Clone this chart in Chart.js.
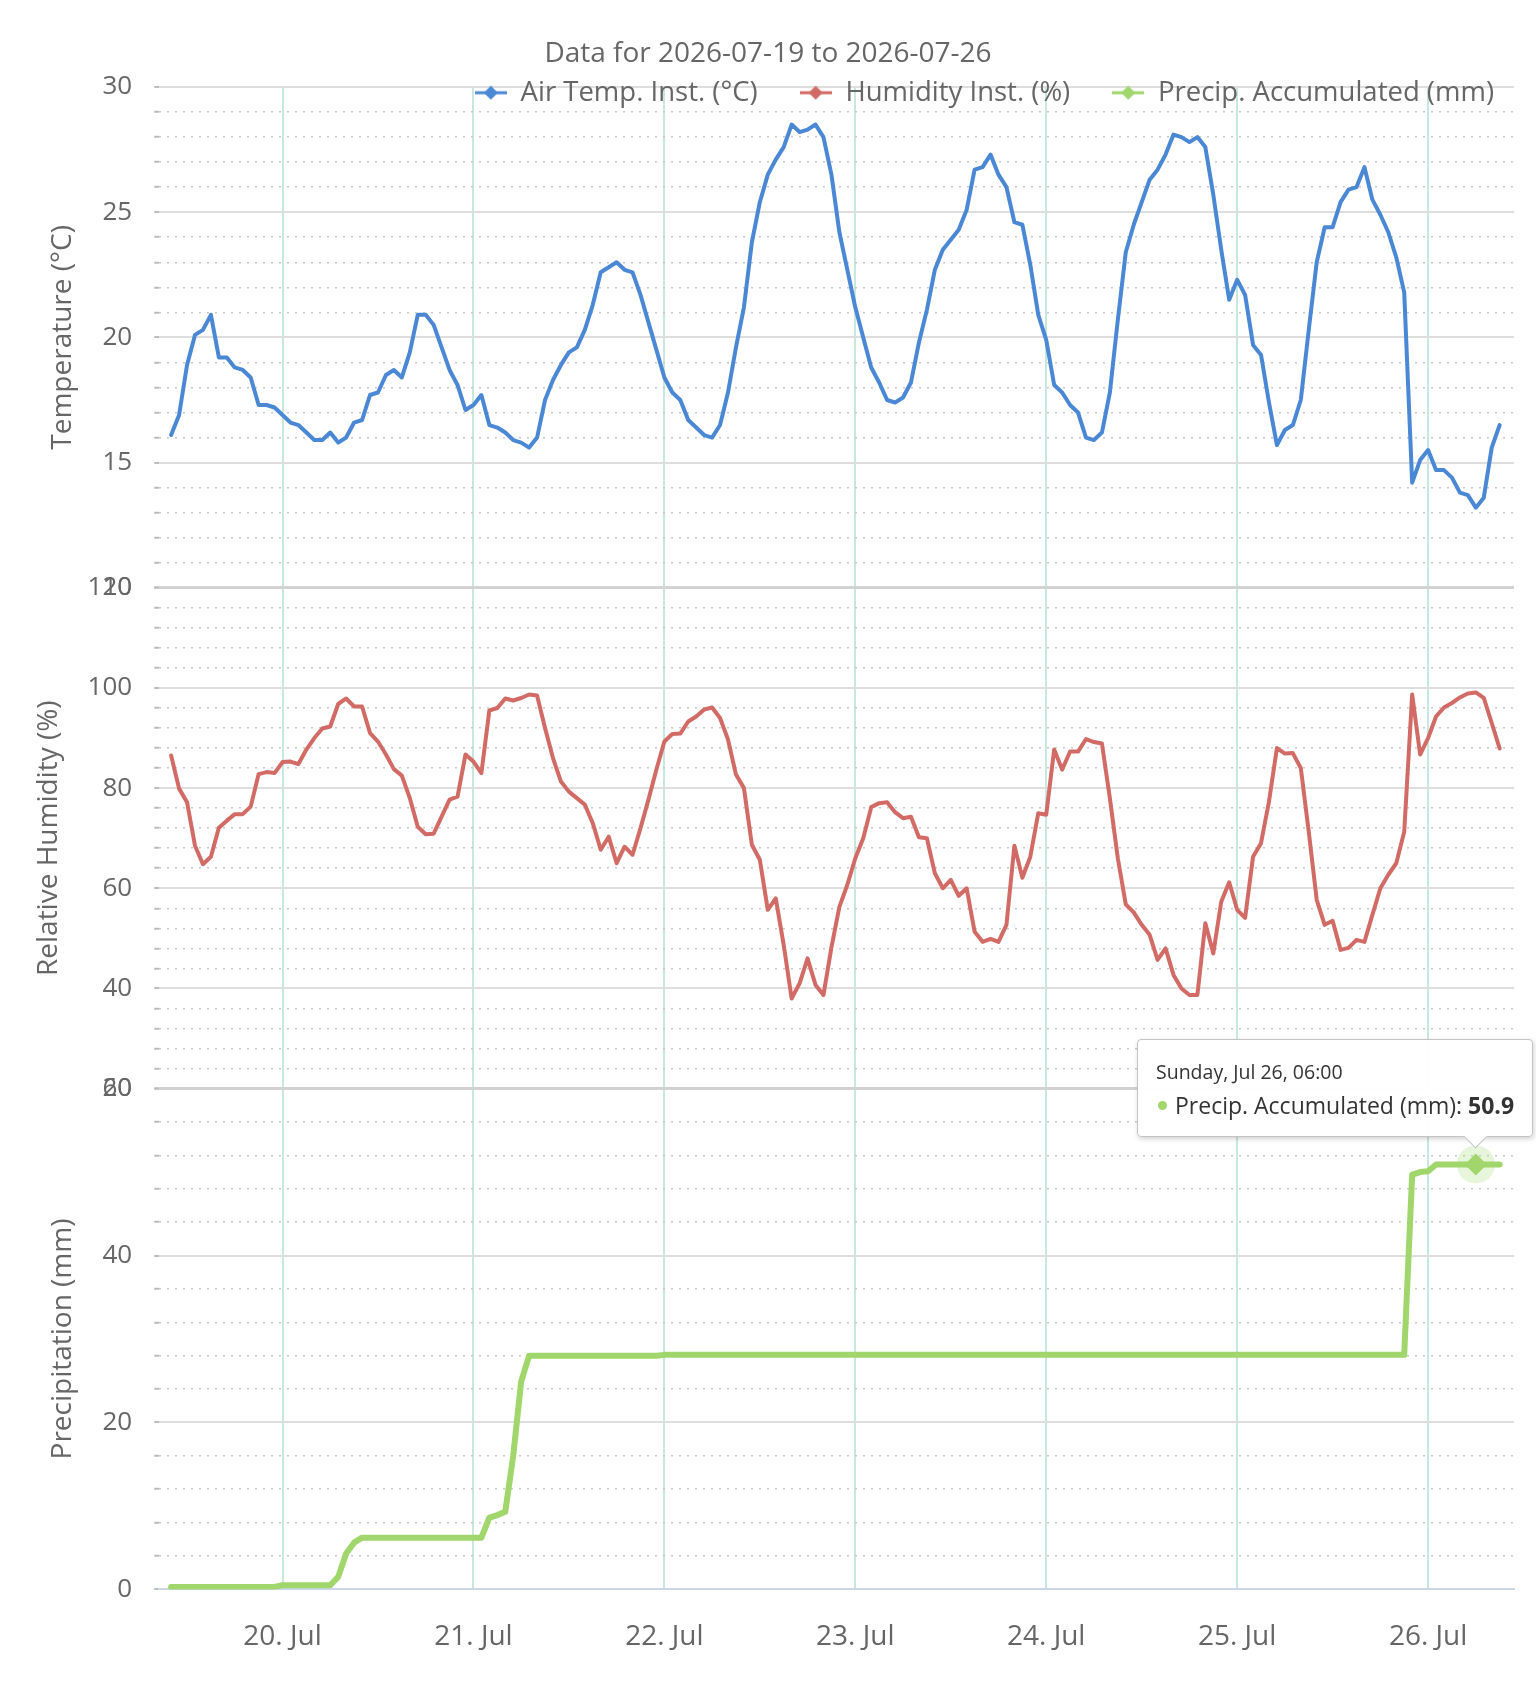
<!DOCTYPE html>
<html lang="en">
<head>
    <meta charset="UTF-8">
    <title>Data for 2026-07-19 to 2026-07-26</title>
    <script src="https://cdn.jsdelivr.net/npm/chart.js"></script>
    <style>
        body {
            margin: 0;
            background: #ffffff;
        }

        #wrap {
            position: relative;
            width: 1536px;
            height: 1685px;
        }

        #tip {
            position: absolute;
            display: none;
            background: rgba(255, 255, 255, 0.97);
            border: 1.5px solid #c4c4c4;
            border-radius: 4px;
            box-shadow: 1px 2px 5px rgba(0, 0, 0, 0.18);
            padding: 16px 18px 14px 18px;
            font-family: 'Open Sans', sans-serif;
            color: #333333;
            white-space: nowrap;
            pointer-events: none;
        }

        #tip .t {
            font-size: 19.5px;
            line-height: 32px;
        }

        #tip .b {
            font-size: 23px;
            line-height: 34px;
        }

        #tip .dot {
            display: inline-block;
            width: 9px;
            height: 9px;
            border-radius: 50%;
            margin: 0 8px 4px 2px;
            vertical-align: middle;
        }

        #tip .arrow {
            position: absolute;
            width: 16px;
            height: 16px;
            bottom: -9.5px;
            background: #ffffff;
            border-right: 1.5px solid #c4c4c4;
            border-bottom: 1.5px solid #c4c4c4;
            transform: rotate(45deg);
        }
    </style>
</head>
<body>
    <div id="wrap">
        <canvas id="weatherChart"></canvas>
        <div id="tip"></div>
    </div>
    <script>
        // hourly readings, first one at 19 Jul 10:00 (hours counted from 19 Jul 00:00)
        const firstHour = 10;

        const airTemp = [
            16.1, 16.9, 18.9, 20.1, 20.3, 20.9, 19.2, 19.2, 18.8, 18.7,
            18.4, 17.3, 17.3, 17.2, 16.9, 16.6, 16.5, 16.2, 15.9, 15.9,
            16.2, 15.8, 16.0, 16.6, 16.7, 17.7, 17.8, 18.5, 18.7, 18.4,
            19.4, 20.9, 20.9, 20.5, 19.6, 18.7, 18.1, 17.1, 17.3, 17.7,
            16.5, 16.4, 16.2, 15.9, 15.8, 15.6, 16.0, 17.5, 18.3, 18.9,
            19.4, 19.6, 20.3, 21.3, 22.6, 22.8, 23.0, 22.7, 22.6, 21.7,
            20.6, 19.5, 18.4, 17.8, 17.5, 16.7, 16.4, 16.1, 16.0, 16.5,
            17.8, 19.6, 21.2, 23.8, 25.4, 26.5, 27.1, 27.6, 28.5, 28.2,
            28.3, 28.5, 28.0, 26.5, 24.2, 22.7, 21.2, 20.0, 18.8, 18.2,
            17.5, 17.4, 17.6, 18.2, 19.8, 21.1, 22.7, 23.5, 23.9, 24.3,
            25.1, 26.7, 26.8, 27.3, 26.5, 26.0, 24.6, 24.5, 22.9, 20.9,
            19.9, 18.1, 17.8, 17.3, 17.0, 16.0, 15.9, 16.2, 17.8, 20.7,
            23.4, 24.5, 25.4, 26.3, 26.7, 27.3, 28.1, 28.0, 27.8, 28.0,
            27.6, 25.7, 23.5, 21.5, 22.3, 21.7, 19.7, 19.3, 17.4, 15.7,
            16.3, 16.5, 17.5, 20.3, 23.0, 24.4, 24.4, 25.4, 25.9, 26.0,
            26.8, 25.5, 24.9, 24.2, 23.2, 21.8, 14.2, 15.1, 15.5, 14.7,
            14.7, 14.4, 13.8, 13.7, 13.2, 13.6, 15.6, 16.5
        ];

        const humidity = [
            86.5, 79.9, 77.2, 68.5, 64.8, 66.3, 72.1, 73.5, 74.8, 74.8,
            76.3, 82.8, 83.2, 83.0, 85.2, 85.3, 84.8, 87.7, 90.0, 91.9,
            92.3, 96.8, 97.9, 96.3, 96.3, 91.0, 89.3, 86.7, 83.8, 82.5,
            78.0, 72.3, 70.8, 70.9, 74.3, 77.7, 78.3, 86.7, 85.3, 83.0,
            95.5, 96.0, 97.9, 97.5, 98.0, 98.7, 98.5, 92.0, 86.0, 81.3,
            79.3, 78.0, 76.7, 73.0, 67.7, 70.3, 65.0, 68.3, 66.7, 72.0,
            77.7, 83.7, 89.3, 90.8, 90.9, 93.3, 94.3, 95.7, 96.1, 94.0,
            89.7, 82.7, 80.0, 68.7, 65.7, 55.7, 58.0, 48.7, 38.0, 41.0,
            46.0, 40.7, 38.7, 48.2, 56.3, 60.7, 66.0, 70.0, 76.2, 77.0,
            77.2, 75.2, 74.0, 74.3, 70.2, 70.0, 63.0, 60.0, 61.7, 58.5,
            60.0, 51.3, 49.3, 49.9, 49.3, 52.7, 68.5, 62.1, 66.3, 75.0,
            74.7, 87.7, 83.7, 87.3, 87.3, 89.8, 89.2, 88.9, 78.0, 66.0,
            56.8, 55.2, 52.7, 50.7, 45.7, 48.0, 42.7, 40.0, 38.7, 38.7,
            53.0, 47.0, 57.3, 61.2, 55.7, 54.1, 66.3, 69.0, 77.3, 88.0,
            86.9, 87.0, 84.0, 71.3, 57.7, 52.7, 53.5, 47.7, 48.1, 49.7,
            49.3, 54.7, 60.0, 62.7, 65.0, 71.3, 98.7, 86.7, 90.0, 94.3,
            96.1, 97.0, 98.1, 98.9, 99.1, 98.0, 93.0, 87.9
        ];

        const precipAcc = [
            0.3, 0.3, 0.3, 0.3, 0.3, 0.3, 0.3, 0.3, 0.3, 0.3,
            0.3, 0.3, 0.3, 0.3, 0.5, 0.5, 0.5, 0.5, 0.5, 0.5,
            0.5, 1.5, 4.3, 5.6, 6.2, 6.2, 6.2, 6.2, 6.2, 6.2,
            6.2, 6.2, 6.2, 6.2, 6.2, 6.2, 6.2, 6.2, 6.2, 6.2,
            8.6, 8.9, 9.3, 16.0, 24.9, 28.0, 28.0, 28.0, 28.0, 28.0,
            28.0, 28.0, 28.0, 28.0, 28.0, 28.0, 28.0, 28.0, 28.0, 28.0,
            28.0, 28.0, 28.1, 28.1, 28.1, 28.1, 28.1, 28.1, 28.1, 28.1,
            28.1, 28.1, 28.1, 28.1, 28.1, 28.1, 28.1, 28.1, 28.1, 28.1,
            28.1, 28.1, 28.1, 28.1, 28.1, 28.1, 28.1, 28.1, 28.1, 28.1,
            28.1, 28.1, 28.1, 28.1, 28.1, 28.1, 28.1, 28.1, 28.1, 28.1,
            28.1, 28.1, 28.1, 28.1, 28.1, 28.1, 28.1, 28.1, 28.1, 28.1,
            28.1, 28.1, 28.1, 28.1, 28.1, 28.1, 28.1, 28.1, 28.1, 28.1,
            28.1, 28.1, 28.1, 28.1, 28.1, 28.1, 28.1, 28.1, 28.1, 28.1,
            28.1, 28.1, 28.1, 28.1, 28.1, 28.1, 28.1, 28.1, 28.1, 28.1,
            28.1, 28.1, 28.1, 28.1, 28.1, 28.1, 28.1, 28.1, 28.1, 28.1,
            28.1, 28.1, 28.1, 28.1, 28.1, 28.1, 49.7, 50.0, 50.1, 50.9,
            50.9, 50.9, 50.9, 50.9, 50.9, 50.9, 50.9, 50.9
        ];

        // x axis: one tick per day at midnight
        const dayTickHours = [24, 48, 72, 96, 120, 144, 168];
        const dayTickLabels = ['20. Jul', '21. Jul', '22. Jul', '23. Jul', '24. Jul', '25. Jul', '26. Jul'];

        const seriesNames = ['Air Temp. Inst. (°C)', 'Humidity Inst. (%)', 'Precip. Accumulated (mm)'];
        const seriesColors = ['#4a87d5', '#d26a65', '#a0d66b'];

        // the point the tooltip sits on (Sunday 26 Jul 06:00)
        const tipSeries = 2;
        const tipHour = 174;

        const weekDays = ['Sunday', 'Monday', 'Tuesday', 'Wednesday', 'Thursday', 'Friday', 'Saturday'];
        const months = ['Jan', 'Feb', 'Mar', 'Apr', 'May', 'Jun', 'Jul', 'Aug', 'Sep', 'Oct', 'Nov', 'Dec'];

        Chart.defaults.font.family = "'Open Sans', sans-serif";
        Chart.defaults.color = '#666666';

        function toPoints(values) {
            return values.map((v, i) => ({ x: firstHour + i, y: v }));
        }

        function hourText(h) {
            const d = new Date(Date.UTC(2026, 6, 19) + h * 3600000);
            const hh = String(d.getUTCHours()).padStart(2, '0');
            return weekDays[d.getUTCDay()] + ', ' + months[d.getUTCMonth()] + ' ' + d.getUTCDate() + ', ' + hh + ':00';
        }

        // legend symbol: short line with a diamond
        function legendSymbol(color) {
            const c = document.createElement('canvas');
            c.width = 32;
            c.height = 16;
            const g = c.getContext('2d');
            g.strokeStyle = color;
            g.lineWidth = 3;
            g.beginPath();
            g.moveTo(0, 8);
            g.lineTo(32, 8);
            g.stroke();
            g.fillStyle = color;
            g.beginPath();
            g.moveTo(16, 1);
            g.lineTo(23, 8);
            g.lineTo(16, 15);
            g.lineTo(9, 8);
            g.closePath();
            g.fill();
            return c;
        }
        const symbols = seriesColors.map(legendSymbol);

        // grid helpers for one panel: solid major lines, dotted minor lines
        function panelGrid(major, edges) {
            const isMajor = c => c.tick && Math.round(c.tick.value) % major === 0;
            const isEdge = c => c.tick && edges.includes(Math.round(c.tick.value));
            return {
                color: c => isEdge(c) ? '#d2d2d2' : (isMajor(c) ? '#dedede' : '#c9c9c9'),
                lineWidth: c => isEdge(c) ? 3 : (isMajor(c) ? 2 : 1.5),
                drawTicks: true,
                tickLength: 5,
                tickColor: '#bdbdbd',
                tickWidth: 2,
                tickBorderDash: []
            };
        }

        function panelBorder(major) {
            return {
                display: false,
                dash: c => (c.tick && Math.round(c.tick.value) % major !== 0) ? [2, 6] : []
            };
        }

        function panelTicks(major, step) {
            return {
                stepSize: step,
                autoSkip: false,
                padding: 22,
                color: '#666666',
                font: { size: 26 },
                callback: v => Math.round(v) % major === 0 ? String(Math.round(v)) : ''
            };
        }

        function panelTitle(text, padTop) {
            return {
                display: true,
                text: text,
                color: '#666666',
                font: { size: 28 },
                padding: { top: padTop, bottom: 0 }
            };
        }

        // soft halo under the hovered point
        const haloPlugin = {
            id: 'halo',
            beforeDatasetsDraw(chart) {
                const ctx = chart.ctx;
                chart.getActiveElements().forEach(a => {
                    ctx.save();
                    ctx.beginPath();
                    ctx.arc(a.element.x, a.element.y, 19, 0, Math.PI * 2);
                    ctx.fillStyle = 'rgba(160, 214, 107, 0.25)';
                    ctx.fill();
                    ctx.restore();
                });
            }
        };

        // legend sits on top of the plot, like the original:
        // it reserves less height than it needs and is drawn without clipping
        const legendHeightPlugin = {
            id: 'legendHeight',
            beforeLayout(chart) {
                const lg = chart.legend;
                if (lg && !lg._fitPatched) {
                    const fit = lg.fit;
                    lg.fit = function () {
                        fit.call(this);
                        this.height = 50;
                    };
                    lg.draw = function () {
                        if (this.options.display) {
                            this._draw();
                        }
                    };
                    lg._fitPatched = true;
                }
            }
        };

        function externalTip(context) {
            const tooltip = context.tooltip;
            const el = document.getElementById('tip');
            if (tooltip.opacity === 0 || !tooltip.dataPoints || !tooltip.dataPoints.length) {
                el.style.display = 'none';
                return;
            }
            const p = tooltip.dataPoints[0];
            const color = seriesColors[p.datasetIndex];
            el.innerHTML =
                '<div class="t">' + hourText(p.raw.x) + '</div>' +
                '<div class="b"><span class="dot" style="background:' + color + '"></span>' +
                p.dataset.label + ': <b>' + p.raw.y.toFixed(1) + '</b></div>' +
                '<div class="arrow"></div>';
            el.style.display = 'block';
            const w = el.offsetWidth;
            const h = el.offsetHeight;
            const cw = context.chart.width;
            const left = Math.min(tooltip.caretX - w / 2, cw - 3 - w);
            el.style.left = left + 'px';
            el.style.top = (tooltip.caretY - 28 - h) + 'px';
            el.querySelector('.arrow').style.left = (tooltip.caretX - left - 9.5) + 'px';
        }

        const datasets = [airTemp, humidity, precipAcc].map((values, i) => ({
            label: seriesNames[i],
            data: toPoints(values),
            yAxisID: ['yT', 'yH', 'yP'][i],
            borderColor: seriesColors[i],
            backgroundColor: seriesColors[i],
            borderWidth: i === 2 ? 6 : 4,
            borderJoinStyle: 'round',
            borderCapStyle: 'round',
            pointRadius: 0,
            pointStyle: 'rectRot',
            pointHoverRadius: 11,
            pointHoverBorderWidth: 0,
            pointHoverBackgroundColor: seriesColors[i],
            tension: 0
        }));

        const ctx = document.getElementById('weatherChart').getContext('2d');
        const chart = new Chart(ctx, {
            type: 'line',
            data: { datasets: datasets },
            plugins: [haloPlugin, legendHeightPlugin],
            options: {
                responsive: true,
                maintainAspectRatio: false,
                animation: false,
                events: [],
                layout: { padding: 0 },
                interaction: { mode: 'nearest', intersect: true },
                plugins: {
                    title: {
                        display: true,
                        text: 'Data for 2026-07-19 to 2026-07-26',
                        color: '#666666',
                        font: { size: 28, weight: 'normal' },
                        padding: { top: 37, bottom: -33.6 }
                    },
                    legend: {
                        position: 'top',
                        align: 'end',
                        labels: {
                            color: '#666666',
                            font: { size: 27.5 },
                            usePointStyle: true,
                            pointStyleWidth: 32,
                            padding: 42,
                            generateLabels: c => Chart.defaults.plugins.legend.labels.generateLabels(c)
                                .map((l, i) => Object.assign(l, { pointStyle: symbols[i] }))
                        }
                    },
                    tooltip: {
                        enabled: false,
                        external: externalTip
                    }
                },
                scales: {
                    x: {
                        type: 'linear',
                        position: 'bottom',
                        min: 8.5,
                        max: 178.8,
                        afterBuildTicks: s => {
                            s.ticks = dayTickHours.map(v => ({ value: v }));
                        },
                        ticks: {
                            autoSkip: false,
                            maxRotation: 0,
                            padding: 31,
                            color: '#666666',
                            font: { size: 28 },
                            callback: v => dayTickLabels[dayTickHours.indexOf(v)]
                        },
                        grid: {
                            color: '#c7e8df',
                            lineWidth: 2,
                            drawTicks: false
                        },
                        border: { display: true, color: '#ccd6eb', width: 2 }
                    },
                    // stacked panels: the scale defined last ends up on top
                    yP: {
                        type: 'linear',
                        position: 'left',
                        stack: 'panels',
                        stackWeight: 1,
                        min: 0,
                        max: 60,
                        ticks: panelTicks(20, 4),
                        grid: panelGrid(20, [60]),
                        border: panelBorder(20),
                        title: panelTitle('Precipitation (mm)', 46)
                    },
                    yH: {
                        type: 'linear',
                        position: 'left',
                        stack: 'panels',
                        stackWeight: 1,
                        min: 20,
                        max: 120,
                        ticks: panelTicks(20, 4),
                        grid: panelGrid(20, [20, 120]),
                        border: panelBorder(20),
                        title: panelTitle('Relative Humidity (%)', 32)
                    },
                    yT: {
                        type: 'linear',
                        position: 'left',
                        stack: 'panels',
                        stackWeight: 1,
                        min: 10,
                        max: 30,
                        ticks: panelTicks(5, 1),
                        grid: panelGrid(5, [10]),
                        border: panelBorder(5),
                        title: panelTitle('Temperature (°C)', 46)
                    },
                    // empty strip on the right, keeps the plot off the edge
                    yR: {
                        type: 'linear',
                        position: 'right',
                        display: true,
                        ticks: { display: false },
                        grid: { display: false, drawTicks: false },
                        border: { display: false },
                        afterFit: s => {
                            s.width = 22;
                        }
                    }
                }
            }
        });

        const active = [{ datasetIndex: tipSeries, index: tipHour - firstHour }];
        chart.setActiveElements(active);
        chart.tooltip.setActiveElements(active, { x: 0, y: 0 });
        chart.update();
    </script>
</body>
</html>
